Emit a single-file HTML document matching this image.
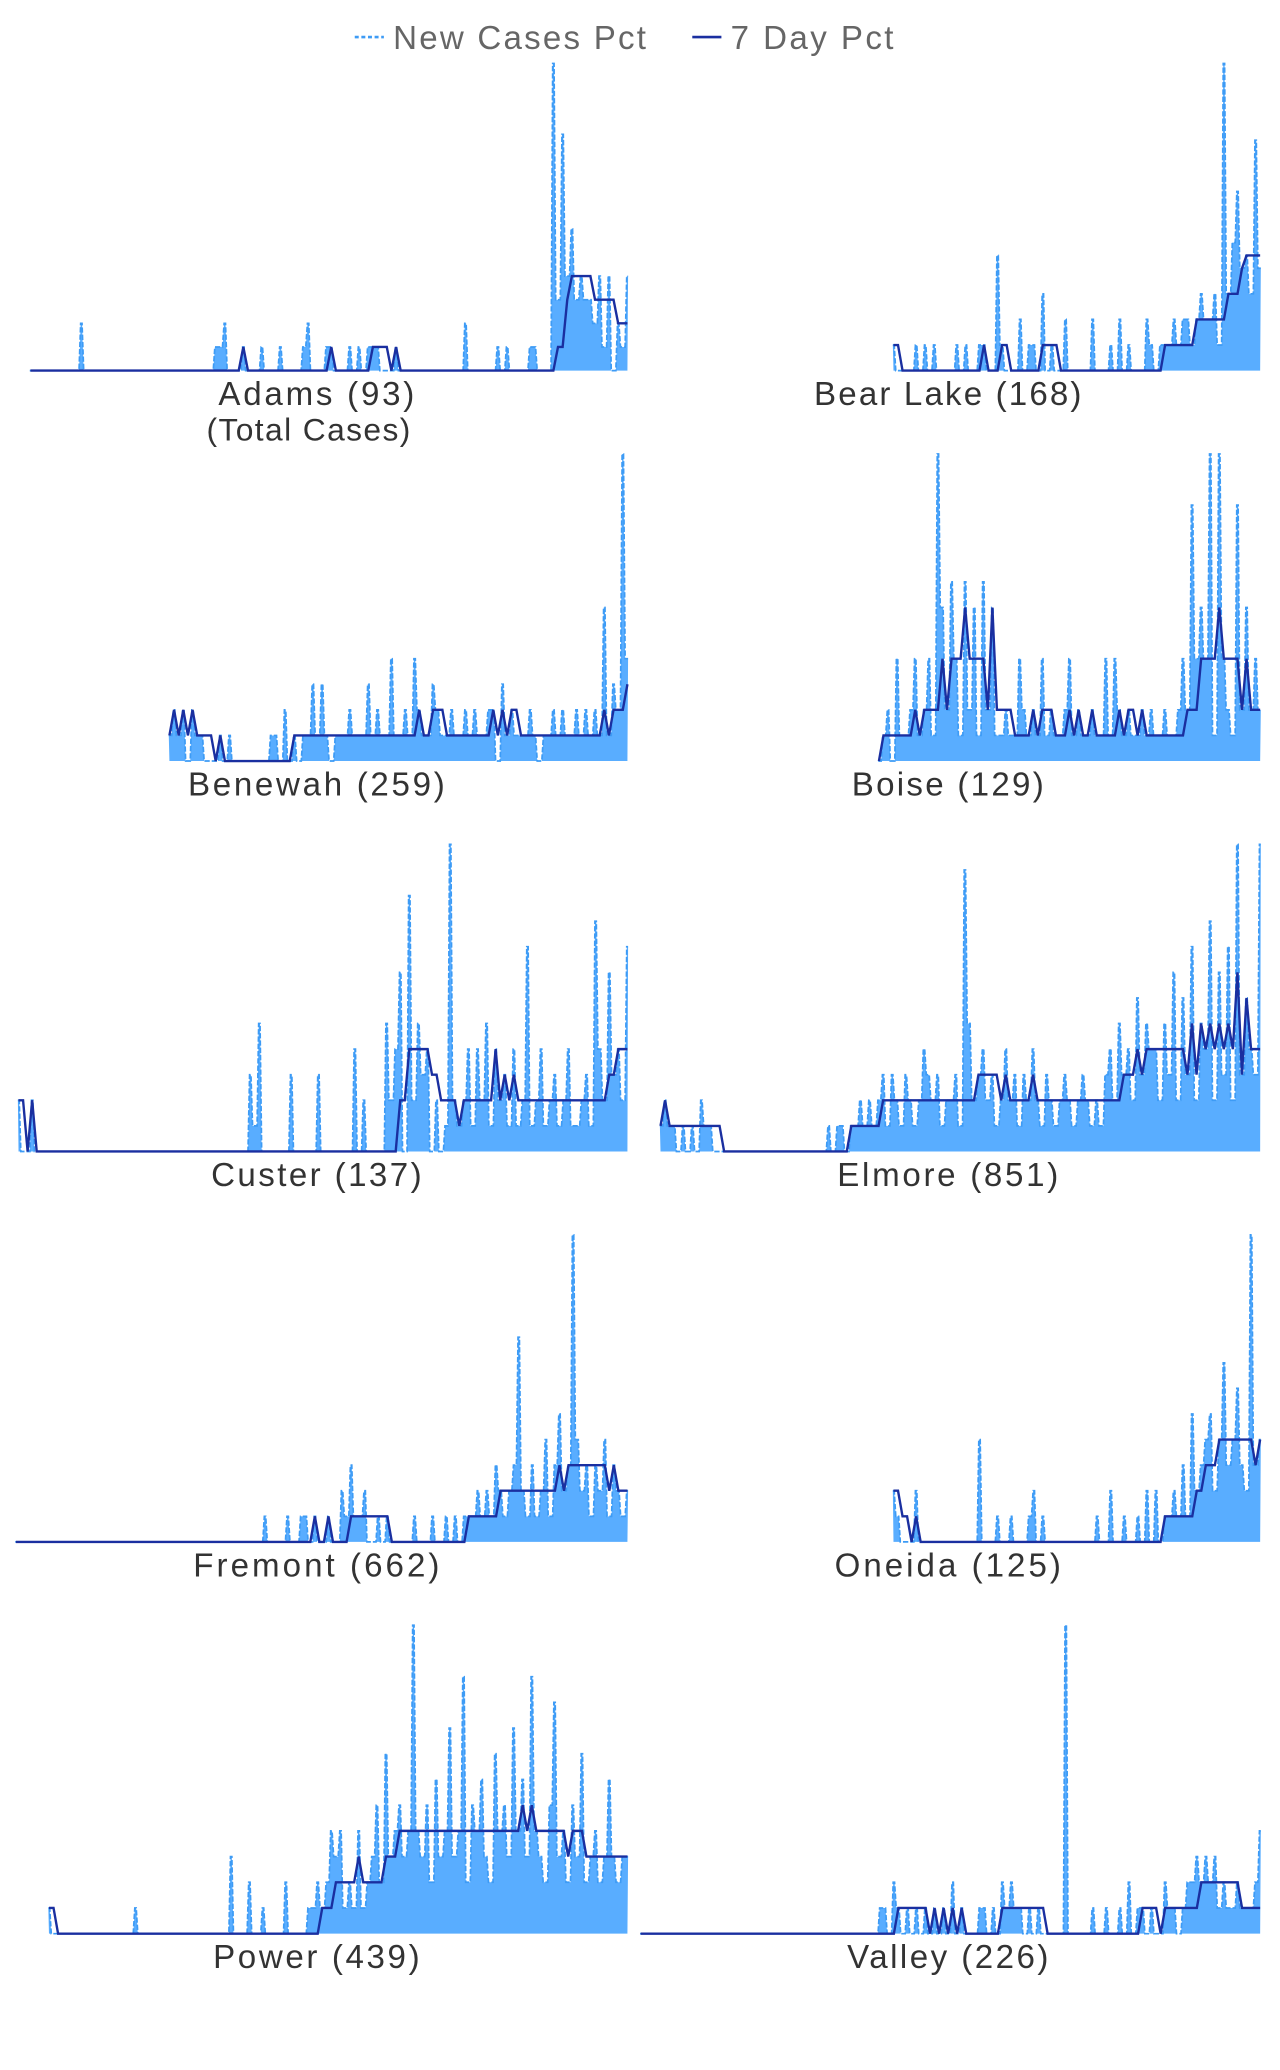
<!DOCTYPE html>
<html><head><meta charset="utf-8">
<style>
html,body{margin:0;padding:0;background:#fff;}
svg{display:block;}
text{font-family:"Liberation Sans",sans-serif;}
</style></head>
<body>
<svg id="chart" width="1280" height="2070" viewBox="0 0 967 1564" preserveAspectRatio="none" xmlns="http://www.w3.org/2000/svg">
  <g>
    <g>
      <line x1="268" y1="28" x2="290" y2="28" stroke="#3d9bf5" stroke-width="2" stroke-dasharray="3,2"/>
      <text x="297" y="37" font-size="25" fill="#666" textLength="191">New Cases Pct</text>
    </g>
    <g>
      <line x1="523" y1="28" x2="545" y2="28" stroke="#1a2fa0" stroke-width="2"/>
      <text x="552" y="37" font-size="25" fill="#666" textLength="123">7 Day Pct</text>
    </g>
  </g>
  <g id="panels"></g>
</svg>
<script>
// ---- data (daily new cases, relative units) ----
const adamsN = 130;
const adamsDays = [11,40,41,42,46,50,54,59,60,64,65,69,71,73,74,75,79,94,101,103,108,109,113,114,115,116,117,118,119,120,121,122,123,124,125,127,128,129];
const adamsVals = [2,1,1,2,1,1,1,1,2,1,1,1,1,1,1,1,1,2,1,1,1,1,13,3,10,4,6,3,4,3,3,2,4,1,4,2,1,4];

const bearLakeN = 82;
const bearLakeDays = [0,5,7,9,14,16,19,20,23,24,28,30,31,33,35,38,44,48,50,52,56,57,59,60,61,62,63,64,65,66,67,68,69,70,71,72,73,74,75,76,77,78,79,80,81];
const bearLakeVals = [1,1,1,1,1,1,1,1,4.5,1,2,1,1,3,1,2,2,1,2,1,2,1,1,1,1,2,1,2,2,1,2,3,2,2,3,1,12,3,5,7,4,4.5,3,9,4];

const benewahVals = [1,2,1,2,0,2,1,1,0,0, 0,1,0,1,0,0,0,0,0,0, 0,0,1,1,0,2,0,1,0,1, 1,3,1,3,1,0,1,1,1,2,
  1,1,1,3,1,2,1,1,4,1, 1,2,1,4,2,1,1,3,2,1, 1,2,1,1,2,1,2,1,1,2, 2,0,3,1,2,1,1,1,2,1, 0,1,1,2,1,2,1,1,2,1, 2,1,2,1,6,1,3,2,12,4];

const boiseVals = [0,1,2,0,4,1,1,2,4,1, 2,4,1,12,6,2,7,4,1,7, 2,6,1,7,2,6,1,1,2,1, 1,4,2,1,2,1,4,1,2,1,
  1,2,4,1,2,1,1,2,1,1, 4,1,4,2,1,2,1,1,2,1, 2,1,1,2,1,1,2,4,2,10, 4,6,4,12,1,12,4,2,1,10, 2,6,2,4,2];

const custerN = 135;
const custerDays = [0,3,51,52,53,60,66,74,76,81,82,83,84,86,87,88,89,90,92,94,95,96,97,98,99,100,101,102,103,104,105,106,107,108,109,110,111,112,113,114,115,116,117,118,119,120,121,122,123,124,125,126,127,128,129,130,131,132,133,134];
const custerVals = [2,2,3,1,5,3,3,4,2,5,2,4,7,10,2,5,3,4,2,1,12,2,1,2,4,1,4,2,5,1,4,2,3,1,4,1,2,8,1,2,4,1,2,3,1,2,4,1,1,2,3,1,9,4,2,7,3,4,2,8];

const elmoreVals = [1,2,1,1,0,1,0,1,0,2, 1,1,0,0,0,0,0,0,0,0, 0,0,0,0,0,0,0,0,0,0, 0,0,0,0,0,0,0,1,0,1,
  1,0,1,1,2,1,2,1,2,3, 1,3,2,1,3,2,1,2,4,3, 2,3,1,2,2,3,1,11,5,2, 3,4,2,3,1,2,4,2,3,1,
  3,2,4,2,1,3,2,1,2,3, 2,1,2,3,2,1,2,1,3,4, 2,5,3,4,2,6,3,5,4,4, 2,5,3,7,2,6,3,8,2,5,
  4,9,2,7,3,8,2,12,3,6, 4,3,12];

const fremontN = 136;
const fremontDays = [55,60,63,64,66,69,72,73,74,75,76,77,80,82,88,92,95,97,99,100,101,102,103,104,105,106,107,108,109,110,111,112,113,114,115,116,117,118,119,120,121,122,123,124,125,126,127,128,129,130,131,132,133,134,135];
const fremontVals = [1,1,1,1,1,1,2,1,3,1,1,2,1,1,1,1,1,1,1,1,1,2,1,2,1,3,2,1,2,3,8,2,1,3,1,2,4,1,3,5,2,3,12,4,2,3,1,3,2,4,1,3,2,1,2];

const oneidaN = 82;
const oneidaDays = [0,1,5,19,23,26,30,31,33,45,48,51,54,56,58,60,61,62,63,64,65,66,67,68,69,70,71,72,73,74,75,76,77,78,79,80,81];
const oneidaVals = [2,1,2,4,1,1,1,2,1,1,2,1,1,2,2,1,1,2,1,3,1,5,2,3,4,5,2,4,7,3,4,6,3,2,12,3,4];

const powerN = 128;
const powerDays = [0,19,40,44,47,52,57,58,59,60,61,62,63,64,65,66,67,68,69,70,71,72,73,74,75,76,77,78,79,80,81,82,83,84,85,86,87,88,89,90,91,92,93,94,95,96,97,98,99,100,101,102,103,104,105,106,107,108,109,110,111,112,113,114,115,116,117,118,119,120,121,122,123,124,125,126,127];
const powerVals = [1,1,3,2,1,2,1,1,2,1,2,4,3,4,1,2,1,4,1,2,3,5,2,7,3,4,5,3,4,12,4,3,5,2,6,3,4,8,3,4,10,2,5,4,6,3,2,7,4,5,3,8,4,6,3,10,4,3,2,5,9,3,4,2,5,3,7,2,3,4,2,3,6,3,2,3,3];

const valleyN = 138;
const valleyDays = [53,54,56,57,59,61,63,65,67,69,71,75,76,78,80,81,82,83,84,86,88,94,100,103,106,108,110,111,113,116,117,118,120,121,122,123,124,125,126,127,128,129,130,131,132,133,134,135,136,137];
const valleyVals = [1,1,2,1,1,1,1,1,1,2,1,1,1,1,2,1,2,1,1,1,1,12,1,1,1,2,1,1,1,2,1,1,1,2,2,3,2,3,2,3,1,2,1,1,2,1,1,1,2,4];

function sparse(n, days, vals){ const a=new Array(n).fill(0); days.forEach((d,i)=>{a[d]=vals[i];}); return a; }

const counties = [
  {key:'adams', label:'Adams (93)', vals:sparse(adamsN,adamsDays,adamsVals), x0:23,x1:474,top:48,base:280,lx:239,lw:148},
  {key:'bear-lake', label:'Bear Lake (168)', vals:sparse(bearLakeN,bearLakeDays,bearLakeVals), x0:675,x1:952,top:48,base:280,lx:716,lw:202},
  {key:'benewah', label:'Benewah (259)', vals:benewahVals, x0:128,x1:474,top:343,base:575,lx:239,lw:194},
  {key:'boise', label:'Boise (129)', vals:boiseVals, x0:664,x1:952,top:343,base:575,lx:716,lw:145},
  {key:'custer', label:'Custer (137)', vals:sparse(custerN,custerDays,custerVals), x0:14,x1:474,top:638,base:870,lx:239,lw:159},
  {key:'elmore', label:'Elmore (851)', vals:elmoreVals, x0:499,x1:952,top:638,base:870,lx:716,lw:167},
  {key:'fremont', label:'Fremont (662)', vals:sparse(fremontN,fremontDays,fremontVals), x0:12,x1:474,top:933,base:1165,lx:239,lw:186},
  {key:'oneida', label:'Oneida (125)', vals:sparse(oneidaN,oneidaDays,oneidaVals), x0:675,x1:952,top:933,base:1165,lx:716,lw:171},
  {key:'power', label:'Power (439)', vals:sparse(powerN,powerDays,powerVals), x0:37,x1:474,top:1228,base:1461,lx:239,lw:156},
  {key:'valley', label:'Valley (226)', vals:sparse(valleyN,valleyDays,valleyVals), x0:484,x1:952,top:1228,base:1461,lx:716,lw:152}
];

const NS='http://www.w3.org/2000/svg';
const root=document.getElementById('panels');
function mk(tag, attrs){ const e=document.createElementNS(NS,tag); for(const k in attrs) e.setAttribute(k,attrs[k]); return e; }

counties.forEach(c=>{
  const n=c.vals.length, mx=Math.max(...c.vals);
  const xs=i=>c.x0+(c.x1-c.x0)*i/(n-1);
  const ys=v=>c.base-(c.base-c.top)*v/mx;
  // 7-day rolling median
  const seven=c.vals.map((v,i)=>{const w=c.vals.slice(Math.max(0,i-6),i+1).slice().sort((a,b)=>a-b);return w[Math.floor(w.length/2)];});
  const g=mk('g',{});
  
  
  // narrow spikes with floor at min of neighbours
  const pts=[];
  c.vals.forEach((v,i)=>{
    const x=xs(i);
    pts.push([x-0.5,ys(v)]); pts.push([x+0.5,ys(v)]);
    if(i<n-1){ pts.push([(x+xs(i+1))/2, ys(Math.min(v,c.vals[i+1]))]); }
  });
  const line=pts.map((p,i)=>(i?'L':'M')+p[0].toFixed(2)+','+p[1].toFixed(2)).join('');
  const area=mk('path',{d:line+'L'+xs(n-1)+','+c.base+'L'+xs(0)+','+c.base+'Z',fill:'#59adff',stroke:'none'});
  
  
  g.appendChild(area);
  const nl=mk('path',{d:line,fill:'none',stroke:'#3d9bf5','stroke-width':1.3,'stroke-dasharray':'4,1.5'});
  
  
  g.appendChild(nl);
  const sl=mk('path',{d:seven.map((v,i)=>(i?'L':'M')+xs(i).toFixed(2)+','+ys(v).toFixed(2)).join(''),fill:'none',stroke:'#1a2fa0','stroke-width':1.8});
  
  
  g.appendChild(sl);
  const t=mk('text',{x:c.lx,y:c.base+26,'text-anchor':'middle','font-size':25,fill:'#333',textLength:c.lw});
  t.textContent=c.label;
  
  
  g.appendChild(t);
  if(c.key==='adams'){
    const t2=mk('text',{x:233,y:333,'text-anchor':'middle','font-size':24,fill:'#333',textLength:154});
    t2.textContent='(Total Cases)';
    
    
    g.appendChild(t2);
  }
  root.appendChild(g);
});
</script>
</body></html>
